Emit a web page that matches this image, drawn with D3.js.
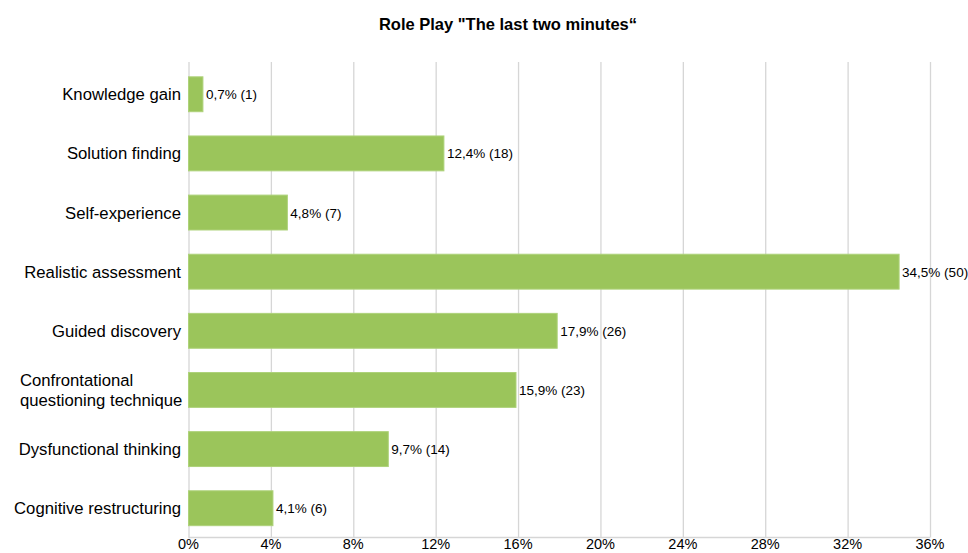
<!DOCTYPE html>
<html>
<head>
<meta charset="utf-8">
<script src="https://cdn.jsdelivr.net/npm/d3@7"></script>
<style>
  body { margin: 0; background: #fff; }
  svg { font-family: "Liberation Sans", Arial, Helvetica, sans-serif; }
  .grid line { stroke: #d6d6d6; stroke-width: 1.3; }
  .grid .domain { display: none; }
</style>
</head>
<body>
<svg id="chart"></svg>
<script>
var w = 968;
var h = 553;

var categories = ["Knowledge gain", "Solution finding", "Self-experience", "Realistic assessment",
  "Guided discovery", "Confrontational questioning technique", "Dysfunctional thinking", "Cognitive restructuring"];
var percents = [0.7, 12.4, 4.8, 34.5, 17.9, 15.9, 9.7, 4.1];
var counts = [1, 18, 7, 50, 26, 23, 14, 6];
var tickValues = [0, 4, 8, 12, 16, 20, 24, 28, 32, 36];

var x = d3.scaleLinear().domain([0, 36]).range([188.5, 930]);
var y = d3.scaleBand().domain(categories).range([65, 537.5]).paddingInner(0.41).paddingOuter(0.2);

var graph = d3.select("#chart").attr("width", w).attr("height", h);

graph.append("text")
  .attr("x", 508).attr("y", 30)
  .attr("text-anchor", "middle")
  .style("font-weight", "bold").style("font-size", "16.5px")
  .text("Role Play \"The last two minutes\u201C");

// vertical grid
var xGrid = d3.axisBottom(x).tickValues(tickValues).tickSize(537.5 - 62).tickFormat("");
graph.append("g").attr("class", "grid").attr("transform", "translate(0,62)").call(xGrid);

// bottom axis line + labels
graph.append("line")
  .attr("x1", x(0)).attr("x2", x(36))
  .attr("y1", 537.5).attr("y2", 537.5)
  .attr("stroke", "#d6d6d6").attr("stroke-width", 1.3);

graph.selectAll(".tickLabel").data(tickValues).enter().append("text")
  .attr("class", "tickLabel")
  .attr("x", function(d) { return x(d); })
  .attr("y", 549.3)
  .attr("text-anchor", "middle")
  .style("font-size", "14.5px")
  .text(function(d) { return d + "%"; });

// bars
graph.selectAll(".bar").data(categories).enter().append("rect")
  .attr("class", "bar")
  .attr("x", x(0))
  .attr("y", function(d) { return y(d); })
  .attr("width", function(d, i) { return x(percents[i]) - x(0); })
  .attr("height", y.bandwidth())
  .attr("fill", "#9bc55b")
  .attr("stroke", "#aed27a").attr("stroke-width", 1);

// value labels
graph.selectAll(".val").data(categories).enter().append("text")
  .attr("class", "val")
  .attr("x", function(d, i) { return x(percents[i]) + 3; })
  .attr("y", function(d) { return y(d) + y.bandwidth() / 2 + 5; })
  .style("font-size", "13.5px")
  .text(function(d, i) { return String(percents[i]).replace(".", ",") + "% (" + counts[i] + ")"; });

// category labels
var catLabels = graph.selectAll(".cat").data(categories).enter().append("text")
  .attr("class", "cat")
  .attr("text-anchor", "end")
  .style("font-size", "16.7px")
  .attr("x", 181)
  .attr("y", function(d) { return y(d) + y.bandwidth() / 2 + 6; });

catLabels.each(function(d) {
  var t = d3.select(this);
  if (d === "Confrontational questioning technique") {
    t.attr("text-anchor", "start").attr("x", 20);
    t.append("tspan").attr("x", 20).attr("dy", -10).text("Confrontational");
    t.append("tspan").attr("x", 20).attr("dy", 20).text("questioning technique");
  } else {
    t.text(d);
  }
});
</script>
</body>
</html>
